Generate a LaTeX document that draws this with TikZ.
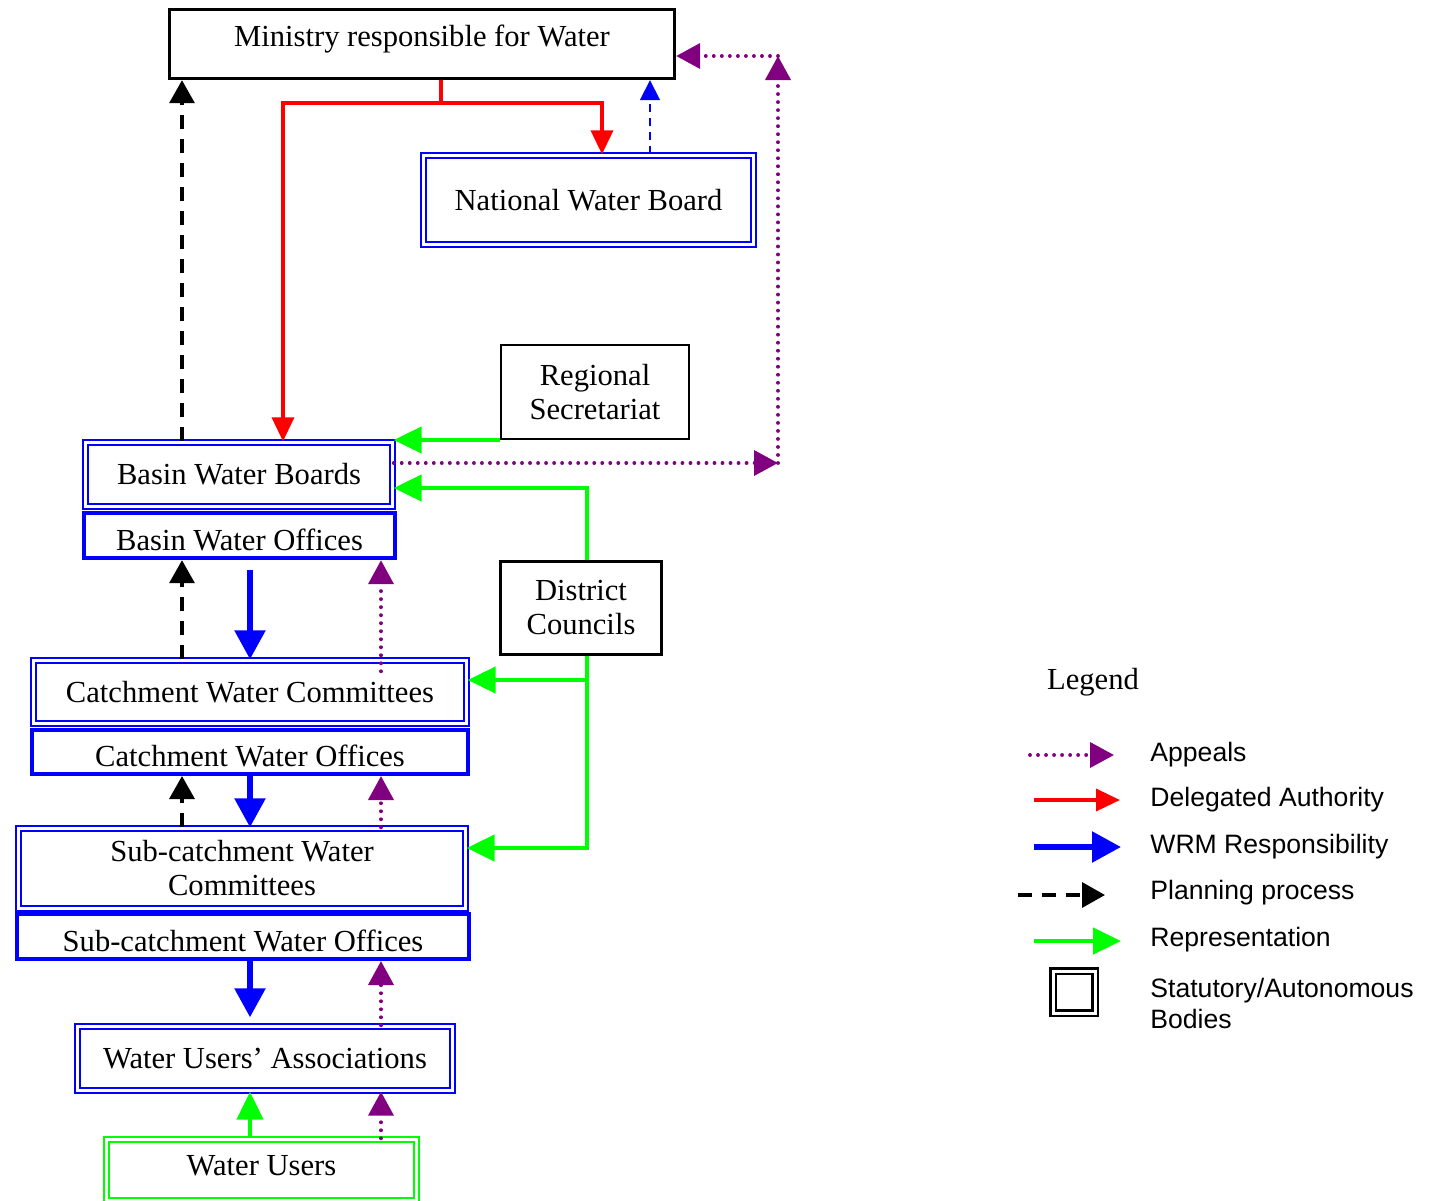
\documentclass[tikz,border=0pt]{standalone}
\usepackage{fontspec}
\setmainfont{Liberation Serif}
\newfontfamily\legfont{Liberation Sans}
\usepackage{tikz}
\usetikzlibrary{arrows.meta}

\definecolor{appealcol}{RGB}{128,0,128}

\tikzset{
	boxtext/.style={font=\fontsize{15.3}{17}\selectfont, align=center, inner sep=0pt},
	plainbox/.style={boxtext, draw=black, line width=1.7pt},
	statbox/.style={boxtext, draw=blue, double, line width=1.2pt, double distance=1.2pt},
	officebox/.style={boxtext, draw=blue, line width=2pt, text height=14.5pt, text depth=0pt},
	legtext/.style={font=\legfont\fontsize{13.3}{15.5}\selectfont, align=left, anchor=west, inner sep=0pt},
	deleg/.style={red, line width=1.8pt, -{Triangle[width=11pt,length=12pt]}},
	wrm/.style={blue, line width=2.8pt, -{Triangle[width=15pt,length=14.5pt]}},
	plan/.style={black, line width=1.7pt, dash pattern=on 7pt off 5pt, -{Triangle[width=12.5pt,length=11.5pt]}},
	appeal/.style={appealcol, line width=1.9pt, line cap=round, dash pattern=on 0.01pt off 4pt, -{Triangle[width=12.5pt,length=12pt]}},
	repr/.style={green, line width=2.3pt, -{Triangle[width=13pt,length=14pt]}},
	advise/.style={blue, line width=0.9pt, dash pattern=on 4pt off 3pt, -{Triangle[width=10pt,length=10pt]}}
}

\begin{document}
\begin{tikzpicture}[x=0.5pt,y=-0.5pt]
	\useasboundingbox (0,0) rectangle (1432,1201);

	% bodies
	\node[plainbox, minimum width=252.5pt, minimum height=34.5pt, text depth=8pt] (ministry) at (422,44) {Ministry responsible for Water};
	\node[statbox, minimum width=165pt, minimum height=44.5pt] (nwb) at (588.5,200) {National Water Board};
	\node[plainbox, line width=1pt, minimum width=94pt, minimum height=47pt] (regsec) at (595,392) {Regional\\Secretariat};
	\node[statbox, minimum width=153.5pt, minimum height=32pt] (bwb) at (239,474.5) {Basin Water Boards};
	\node[officebox, minimum width=155.7pt, minimum height=22.7pt] (bwo) at (239.5,535.5) {Basin Water Offices};
	\node[plainbox, minimum width=80.5pt, minimum height=46.5pt] (dc) at (581,608) {District\\Councils};
	\node[statbox, minimum width=216.5pt, minimum height=31.5pt] (cwc) at (250,692) {Catchment Water Committees};
	\node[officebox, minimum width=218pt, minimum height=22pt] (cwo) at (250,752) {Catchment Water Offices};
	\node[statbox, minimum width=223.5pt, minimum height=40pt] (scwc) at (242,868.5) {Sub-catchment Water\\Committees};
	\node[officebox, minimum width=226pt, minimum height=22.5pt] (scwo) at (243,936.5) {Sub-catchment Water Offices};
	\node[statbox, minimum width=187.5pt, minimum height=32pt] (wua) at (265,1058.5) {Water Users’ Associations};
	\node[statbox, draw=green, minimum width=155pt, minimum height=30.5pt, text depth=5pt] (wu) at (261.5,1170) {Water Users};

	% columns and bends
	\coordinate (xplan) at (182,0);
	\coordinate (xwrm) at (250,0);
	\coordinate (xapp) at (381,0);
	\coordinate (xadv) at (650,0);
	\coordinate (dsplit) at (441,103);
	\coordinate (dleft) at (283,103);
	\coordinate (dright) at (602,103);
	\coordinate (acorner) at (778,463);
	\coordinate (atop) at (778,56);
	\coordinate (dcbend) at (587,488);
	\coordinate (dccwc) at (587,680);
	\coordinate (dcscwc) at (587,848);

	% delegated authority
	\draw[red, line width=1.8pt] (ministry.south -| dsplit) -- (dsplit);
	\draw[deleg] (dsplit) -- (dleft) -- (bwb.north -| dleft);
	\draw[deleg] (dsplit) -- (dright) -- (nwb.north -| dright);
	\draw[advise] (nwb.north -| xadv) -- (ministry.south -| xadv);

	% planning process
	\draw[plan] (bwb.north -| xplan) -- (ministry.south -| xplan);
	\draw[plan] (cwc.north -| xplan) -- (bwo.south -| xplan);
	\draw[plan] (scwc.north -| xplan) -- (cwo.south -| xplan);

	% appeals
	\draw[appeal] (bwb.east |- acorner) -- (acorner);
	\draw[appeal] (acorner) -- (atop);
	\draw[appeal] (atop) -- (ministry.east |- atop);
	\draw[appeal] ([yshift=-6pt]cwc.north -| xapp) -- (bwo.south -| xapp);
	\draw[appeal] (scwc.north -| xapp) -- (cwo.south -| xapp);
	\draw[appeal] (wua.north -| xapp) -- (scwo.south -| xapp);
	\draw[appeal] (wu.north -| xapp) -- (wua.south -| xapp);

	% representation
	\draw[repr] (regsec.south west) -- (bwb.east |- regsec.south west);
	\draw[repr] (dc.north -| dcbend) -- (dcbend) -- (bwb.east |- dcbend);
	\draw[repr] (dc.south -| dccwc) -- (dcscwc) -- (scwc.east |- dcscwc);
	\draw[repr] (dccwc) -- (cwc.east |- dccwc);
	\draw[repr] (wu.north -| xwrm) -- (wua.south -| xwrm);

	% WRM responsibility
	\draw[wrm] ([yshift=-5pt]bwo.south -| xwrm) -- (cwc.north -| xwrm);
	\draw[wrm] (cwo.south -| xwrm) -- (scwc.north -| xwrm);
	\draw[wrm] (scwo.south -| xwrm) -- ([yshift=4pt]wua.north -| xwrm);

	% legend
	\node[boxtext] (legtitle) at (1093,682) {Legend};
	\coordinate (lappS) at (1030,755);  \coordinate (lappE) at (1114,755);
	\coordinate (ldelS) at (1034,800);  \coordinate (ldelE) at (1120,800);
	\coordinate (lwrmS) at (1034,847);  \coordinate (lwrmE) at (1121,847);
	\coordinate (lplanS) at (1018,895); \coordinate (lplanE) at (1105,895);
	\coordinate (lrepS) at (1034,941);  \coordinate (lrepE) at (1121,941);
	\draw[appeal] (lappS) -- (lappE);
	\draw[deleg] (ldelS) -- (ldelE);
	\draw[wrm] (lwrmS) -- (lwrmE);
	\draw[plan] (lplanS) -- (lplanE);
	\draw[repr] (lrepS) -- (lrepE);
	\node[draw=black, double, line width=1.3pt, double distance=1.5pt, minimum size=21pt, inner sep=0pt] (legbox) at (1074,992) {};
	\node[legtext] (lapp) at (1150,755) {Appeals};
	\node[legtext] (ldel) at (1150,800) {Delegated Authority};
	\node[legtext] (lwrm) at (1150,847) {WRM Responsibility};
	\node[legtext] (lplan) at (1150,893) {Planning process};
	\node[legtext] (lrep) at (1150,940) {Representation};
	\node[legtext] (lstat) at (1150,1003) {Statutory/Autonomous\\Bodies};
\end{tikzpicture}
\end{document}
